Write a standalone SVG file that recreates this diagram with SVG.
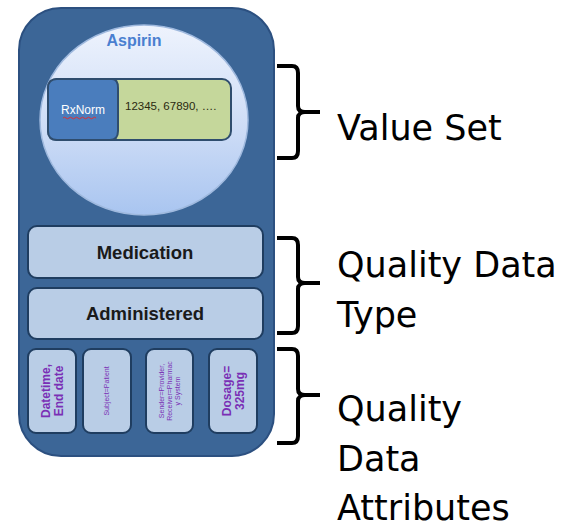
<svg xmlns="http://www.w3.org/2000/svg" width="571" height="529" viewBox="0 0 571 529">
<defs>
<linearGradient id="circ" x1="0" y1="0" x2="0" y2="1">
<stop offset="0" stop-color="#eef3fd"/>
<stop offset="0.55" stop-color="#cddcf6"/>
<stop offset="1" stop-color="#a9c5f0"/>
</linearGradient>
<style>
.box{fill:#b9cde6;stroke:#1f3d60;stroke-width:2}
.bold{font-family:"Liberation Sans",Arial,sans-serif;font-weight:bold;fill:#1a1a1a;text-anchor:middle}
.attr{font-family:"Liberation Sans",Arial,sans-serif;fill:#7a2fb5;text-anchor:middle}
.lbl{font-family:"DejaVu Sans",Verdana,sans-serif;font-size:35px;fill:#000}
.br{fill:none;stroke:#000;stroke-width:4;stroke-linecap:square;stroke-linejoin:round}
</style>
</defs>
<g id="container">
<rect x="19" y="8" width="255" height="448" rx="42" fill="#3c6697" stroke="#2c5080" stroke-width="2"/>
</g>
<g id="valueset">
<ellipse cx="144" cy="120" rx="104" ry="95" fill="url(#circ)" stroke="#9fb9de" stroke-width="1.5"/>
<text x="134" y="46" font-family="'Liberation Sans',Arial,sans-serif" font-weight="bold" font-size="16" fill="#4a7fd0" text-anchor="middle">Aspirin</text>
<rect x="48" y="79" width="183" height="61" rx="9" fill="#c5d79b" stroke="#2f4d6e" stroke-width="2"/>
<path d="M57,79 H112 Q118,79 118,88 V131 Q118,140 110,140 H57 Q48,140 48,131 V88 Q48,79 57,79 Z" fill="#4a7dbd" stroke="#2f4d6e" stroke-width="2"/>
<text x="83" y="114" font-family="'Liberation Sans',Arial,sans-serif" font-size="12" fill="#ffffff" text-anchor="middle">RxNorm</text>
<path d="M63,118 q1.5,-1.5 3,0 t3,0 t3,0 t3,0 t3,0 t3,0 t3,0 t3,0 t3,0 t3,0 t3,0" fill="none" stroke="#e03030" stroke-width="1"/>
<text x="125" y="110" font-family="'Liberation Sans',Arial,sans-serif" font-size="11.5" fill="#2a2a10">12345, 67890, ….</text>
</g>
<g id="medication">
<rect class="box" x="28" y="226" width="235" height="52" rx="9"/>
<text class="bold" x="145" y="259" font-size="18.5">Medication</text>
</g>
<g id="administered">
<rect class="box" x="28" y="288" width="235" height="51" rx="9"/>
<text class="bold" x="145" y="320" font-size="18.5">Administered</text>
</g>
<g id="attr-datetime">
<rect class="box" x="28" y="349" width="48" height="84" rx="8"/>
<text class="attr" font-weight="bold" font-size="12" transform="translate(52,391) rotate(-90)"><tspan x="0" y="-2">Datetime,</tspan><tspan x="0" y="11">End date</tspan></text>
</g>
<g id="attr-subject">
<rect class="box" x="83" y="349" width="48" height="84" rx="8"/>
<text class="attr" font-size="7" transform="translate(107,391) rotate(-90)"><tspan x="0" y="2">Subject=Patient</tspan></text>
</g>
<g id="attr-sender">
<rect class="box" x="146" y="349" width="47" height="84" rx="8"/>
<text class="attr" font-size="7" transform="translate(169.5,391) rotate(-90)"><tspan x="0" y="-6">Sender=Provider,</tspan><tspan x="0" y="2">Receiver=Pharmac</tspan><tspan x="0" y="10">y System</tspan></text>
</g>
<g id="attr-dosage">
<rect class="box" x="209" y="349" width="48" height="84" rx="8"/>
<text class="attr" font-weight="bold" font-size="12" transform="translate(233,391) rotate(-90)"><tspan x="0" y="-2">Dosage=</tspan><tspan x="0" y="11">325mg</tspan></text>
</g>
<g id="connectors">
<path class="br" d="M279,66 H292 Q298,66 298,73 V106 Q298,112 305,112 H318 M305,112 Q298,112 298,118 V151 Q298,158 292,158 H279"/>
<path class="br" d="M279,238 H292 Q298,238 298,245 V277 Q298,283 305,283 H318 M305,283 Q298,283 298,289 V326 Q298,333 292,333 H279"/>
<path class="br" d="M279,349 H292 Q298,349 298,356 V389 Q298,395 305,395 H318 M305,395 Q298,395 298,401 V436 Q298,443 292,443 H279"/>
</g>
<g id="labels">
<text class="lbl" x="337" y="140">Value Set</text>
<text class="lbl" x="337" y="277">Quality Data</text>
<text class="lbl" x="337" y="327">Type</text>
<text class="lbl" x="337" y="421">Quality</text>
<text class="lbl" x="337" y="471">Data</text>
<text class="lbl" x="337" y="520">Attributes</text>
</g>
</svg>
